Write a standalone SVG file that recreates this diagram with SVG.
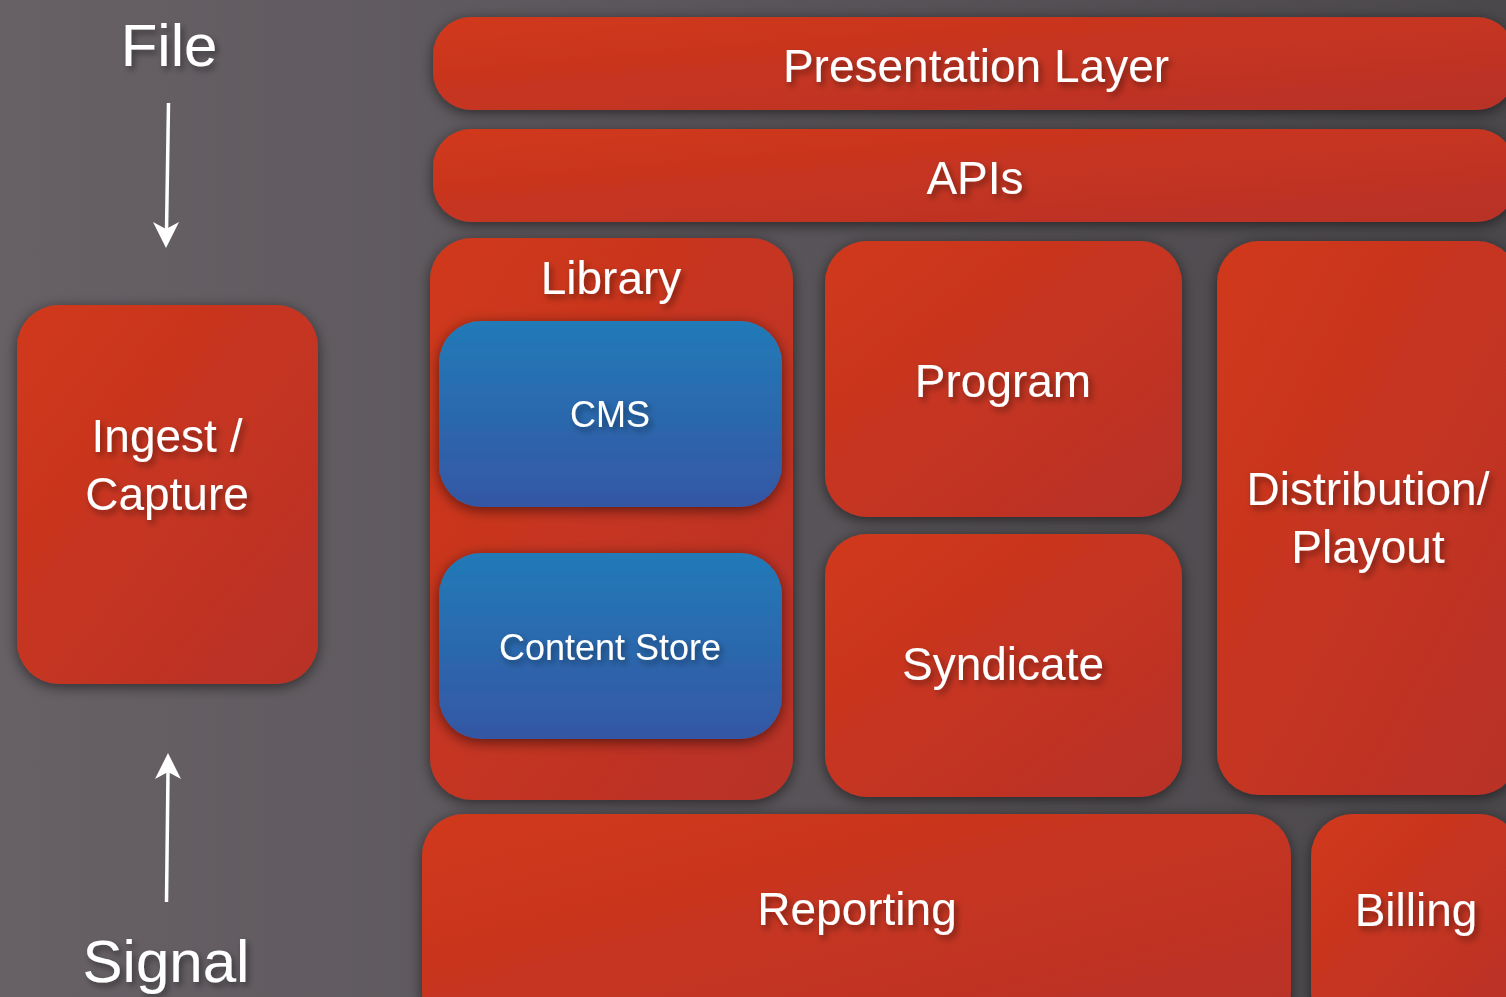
<svg xmlns="http://www.w3.org/2000/svg" width="1506" height="997" viewBox="0 0 1506 997">
<defs>
<linearGradient id="bg" x1="0" y1="0" x2="1" y2="0">
<stop offset="0" stop-color="#676166"/>
<stop offset="1" stop-color="#4b484c"/>
</linearGradient>
<linearGradient id="red" x1="0" y1="0" x2="1" y2="1">
<stop offset="0" stop-color="#d1381a"/>
<stop offset="1" stop-color="#b83128"/>
</linearGradient>
<linearGradient id="blue" x1="0" y1="0" x2="0" y2="1">
<stop offset="0" stop-color="#227ab7"/>
<stop offset="1" stop-color="#3457a4"/>
</linearGradient>
<filter id="sh" x="-20%" y="-20%" width="140%" height="140%">
<feDropShadow dx="0" dy="3" stdDeviation="7" flood-color="#000" flood-opacity="0.55"/>
</filter>
<filter id="tsh" x="-20%" y="-40%" width="140%" height="180%">
<feDropShadow dx="3" dy="4" stdDeviation="3" flood-color="#000" flood-opacity="0.4"/>
</filter>
<style>
.box{fill:url(#red);filter:url(#sh)}
.bbox{fill:url(#blue);filter:url(#sh)}
text{font-family:"Liberation Sans",Arial,sans-serif;fill:#fff;text-anchor:middle;filter:url(#tsh)}
.l{font-size:46px}
.s{font-size:36px}
.xl{font-size:60px}
.conn{stroke:#fff;stroke-width:3.5;fill:none}
.head{fill:#fff}
</style>
</defs>
<rect width="1506" height="997" fill="url(#bg)"/>

<g id="connectors">
<line class="conn" x1="168.5" y1="103" x2="166.5" y2="232"/>
<path class="head" d="M153,222 L166,248 L179,222 L166,229 Z"/>
<line class="conn" x1="166.5" y1="902" x2="168" y2="772"/>
<path class="head" d="M155,779 L168,753 L181,779 L168,772 Z"/>
</g>

<g id="file"><text class="xl" x="169" y="66">File</text></g>
<g id="signal"><text class="xl" x="166" y="982">Signal</text></g>

<g id="ingest">
<rect class="box" x="17" y="305" width="301" height="379" rx="42"/>
<text class="l" x="167" y="452">Ingest /</text>
<text class="l" x="167" y="510">Capture</text>
</g>

<g id="presentation">
<rect class="box" x="433" y="17" width="1082" height="93" rx="38"/>
<text class="l" x="976" y="82">Presentation Layer</text>
</g>

<g id="apis">
<rect class="box" x="433" y="129" width="1082" height="93" rx="38"/>
<text class="l" x="975" y="194">APIs</text>
</g>

<g id="library">
<rect class="box" x="430" y="238" width="363" height="562" rx="42"/>
<text class="l" x="611" y="294">Library</text>
</g>

<g id="cms">
<rect class="bbox" x="439" y="321" width="343" height="186" rx="42"/>
<text class="s" x="610" y="427">CMS</text>
</g>

<g id="content-store">
<rect class="bbox" x="439" y="553" width="343" height="186" rx="42"/>
<text class="s" x="610" y="660">Content Store</text>
</g>

<g id="program">
<rect class="box" x="825" y="241" width="357" height="276" rx="42"/>
<text class="l" x="1003" y="397">Program</text>
</g>

<g id="syndicate">
<rect class="box" x="825" y="534" width="357" height="263" rx="42"/>
<text class="l" x="1003" y="680">Syndicate</text>
</g>

<g id="distribution">
<rect class="box" x="1217" y="241" width="302" height="554" rx="42"/>
<text class="l" x="1368" y="505">Distribution/</text>
<text class="l" x="1368" y="563">Playout</text>
</g>

<g id="reporting">
<rect class="box" x="422" y="814" width="869" height="220" rx="42"/>
<text class="l" x="857" y="925">Reporting</text>
</g>

<g id="billing">
<rect class="box" x="1311" y="814" width="210" height="220" rx="42"/>
<text class="l" x="1416" y="926">Billing</text>
</g>
</svg>
